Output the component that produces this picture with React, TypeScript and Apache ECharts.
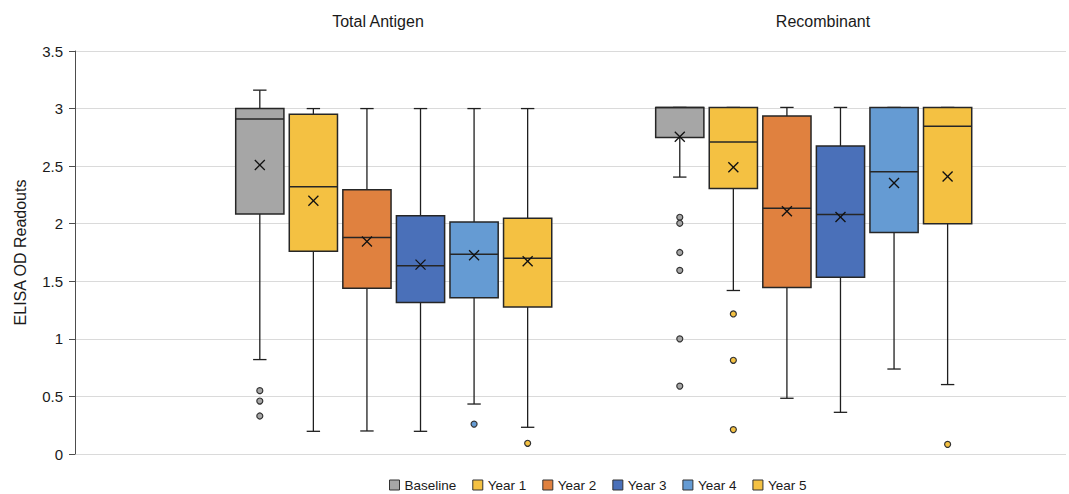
import { useEffect, useRef } from "react";
import * as echarts from "echarts";

// Sample groups (shown as headings above the plot)
const groups = ["Total Antigen", "Recombinant"];

// Time points, one box series each
const seriesNames = ["Baseline", "Year 1", "Year 2", "Year 3", "Year 4", "Year 5"];
const seriesColors = ["#A6A6A6", "#F4C142", "#E0813F", "#4A70B9", "#659BD3", "#F4C142"];

// Five-number summaries [min, Q1, median, Q3, max], one entry per group
const baselineBox = [[0.82, 2.085, 2.91, 3.0, 3.16], [2.405, 2.748, 3.01, 3.01, 3.01]];
const year1Box = [[0.197, 1.76, 2.32, 2.95, 3.0], [1.42, 2.305, 2.71, 3.01, 3.01]];
const year2Box = [[0.2, 1.44, 1.88, 2.296, 3.0], [0.484, 1.445, 2.134, 2.936, 3.01]];
const year3Box = [[0.197, 1.315, 1.636, 2.07, 3.0], [0.362, 1.535, 2.079, 2.675, 3.01]];
const year4Box = [[0.434, 1.358, 1.734, 2.015, 3.0], [0.738, 1.923, 2.452, 3.01, 3.01]];
const year5Box = [[0.232, 1.277, 1.7, 2.047, 3.0], [0.603, 2.0, 2.846, 3.01, 3.01]];

// Means (drawn as ×), one per group
const baselineMean = [2.51, 2.755];
const year1Mean = [2.2, 2.49];
const year2Mean = [1.845, 2.108];
const year3Mean = [1.645, 2.058];
const year4Mean = [1.726, 2.354];
const year5Mean = [1.674, 2.41];

// Outlying readouts, one list per group
const baselineOutliers = [[0.55, 0.46, 0.33], [2.056, 2.004, 1.75, 1.595, 1.0, 0.59]];
const year1Outliers = [[], [1.216, 0.814, 0.212]];
const year2Outliers = [[], []];
const year3Outliers = [[], []];
const year4Outliers = [[0.26], []];
const year5Outliers = [[0.093], [0.084]];

const boxes = [baselineBox, year1Box, year2Box, year3Box, year4Box, year5Box];
const means = [baselineMean, year1Mean, year2Mean, year3Mean, year4Mean, year5Mean];
const outliers = [
  baselineOutliers,
  year1Outliers,
  year2Outliers,
  year3Outliers,
  year4Outliers,
  year5Outliers,
];

// Layout on the hidden slot axis: one unit per box slot
const SLOT_MAX = 18.5;
const GROUP_START = [3.45, 11.29];
const BOX_FRACTION = 0.9;
const CAP_FRACTION = 0.25;

const FONT = "'Liberation Sans', Arial, Helvetica, sans-serif";
const TEXT = "#1a1a1a";
const EDGE = "#262626";

export default function App() {
  const ref = useRef<HTMLDivElement>(null);

  useEffect(() => {
    if (!ref.current) return;
    const chart = echarts.init(ref.current, undefined, { renderer: "svg" });

    const boxSeries = seriesNames.map((name, k) => ({
      name,
      type: "custom",
      xAxisIndex: 0,
      yAxisIndex: 0,
      itemStyle: { color: seriesColors[k], borderColor: EDGE, borderWidth: 1 },
      data: groups.map((_, g) => [g, ...boxes[k][g], means[k][g]]),
      renderItem: (_params: any, api: any) => {
        const g = api.value(0);
        const x = GROUP_START[g] + k;
        const pt = (v: number) => api.coord([x, v]);
        const cx = pt(0)[0];
        const yMin = pt(api.value(1))[1];
        const yQ1 = pt(api.value(2))[1];
        const yMed = pt(api.value(3))[1];
        const yQ3 = pt(api.value(4))[1];
        const yMax = pt(api.value(5))[1];
        const yMean = pt(api.value(6))[1];
        const w = api.size([BOX_FRACTION, 0])[0];
        const cap = api.size([CAP_FRACTION, 0])[0];
        const line = { stroke: "#1f1f1f", lineWidth: 1.3 };
        const m = 5;
        return {
          type: "group",
          children: [
            { type: "line", shape: { x1: cx, y1: yMax, x2: cx, y2: yQ3 }, style: line },
            { type: "line", shape: { x1: cx, y1: yQ1, x2: cx, y2: yMin }, style: line },
            { type: "line", shape: { x1: cx - cap / 2, y1: yMax, x2: cx + cap / 2, y2: yMax }, style: line },
            { type: "line", shape: { x1: cx - cap / 2, y1: yMin, x2: cx + cap / 2, y2: yMin }, style: line },
            {
              type: "rect",
              shape: { x: cx - w / 2, y: yQ3, width: w, height: yQ1 - yQ3 },
              style: { fill: seriesColors[k], stroke: EDGE, lineWidth: 1.5 },
            },
            { type: "line", shape: { x1: cx - w / 2, y1: yMed, x2: cx + w / 2, y2: yMed }, style: { stroke: EDGE, lineWidth: 1.5 } },
            { type: "line", shape: { x1: cx - m, y1: yMean - m, x2: cx + m, y2: yMean + m }, style: { stroke: "#111", lineWidth: 1.3 } },
            { type: "line", shape: { x1: cx - m, y1: yMean + m, x2: cx + m, y2: yMean - m }, style: { stroke: "#111", lineWidth: 1.3 } },
          ],
        };
      },
      z: 2,
    }));

    const outlierSeries = seriesNames.map((name, k) => ({
      name,
      type: "scatter",
      xAxisIndex: 0,
      yAxisIndex: 0,
      symbol: "circle",
      symbolSize: 6,
      itemStyle: { color: seriesColors[k], borderColor: "#333", borderWidth: 1.2, opacity: 1 },
      data: groups.flatMap((_, g) => outliers[k][g].map((v) => [GROUP_START[g] + k, v])),
      z: 3,
    }));

    chart.setOption({
      animation: false,
      textStyle: { fontFamily: FONT, color: TEXT },
      grid: [
        { left: 75, right: 3, top: 51, bottom: 40 },
        { left: 155.5, right: 23.5, top: 51, bottom: 40 },
      ],
      xAxis: [
        { type: "value", gridIndex: 0, min: 0, max: SLOT_MAX, show: false },
        {
          type: "category",
          gridIndex: 1,
          position: "top",
          data: groups,
          axisLine: { show: false },
          axisTick: { show: false },
          splitLine: { show: false },
          axisLabel: { fontSize: 16, color: TEXT, fontFamily: FONT, margin: 22 },
        },
      ],
      yAxis: [
        {
          type: "value",
          gridIndex: 0,
          min: 0,
          max: 3.5,
          interval: 0.5,
          name: "ELISA OD Readouts",
          nameLocation: "middle",
          nameGap: 47,
          nameRotate: 90,
          nameTextStyle: { fontSize: 16, color: TEXT, fontFamily: FONT },
          axisLine: { show: true, lineStyle: { color: "#4d4d4d", width: 1 } },
          axisTick: { show: true, length: 6, lineStyle: { color: "#4d4d4d" } },
          axisLabel: { fontSize: 15, color: TEXT, fontFamily: FONT, margin: 12 },
          splitLine: { show: true, lineStyle: { color: "#DADADA", width: 1 } },
        },
        { type: "value", gridIndex: 1, min: 0, max: 3.5, show: false },
      ],
      legend: {
        data: seriesNames,
        left: 384,
        top: 473,
        icon: "rect",
        itemWidth: 10,
        itemHeight: 10,
        itemGap: 16,
        selectedMode: false,
        itemStyle: { borderColor: "#333", borderWidth: 1 },
        textStyle: { fontSize: 13.5, color: TEXT, fontFamily: FONT },
      },
      series: [...boxSeries, ...outlierSeries],
    });

    return () => chart.dispose();
  }, []);

  return (
    <div
      ref={ref}
      style={{ position: "absolute", left: 0, top: 0, width: 1069, height: 494, background: "#fff" }}
    />
  );
}
